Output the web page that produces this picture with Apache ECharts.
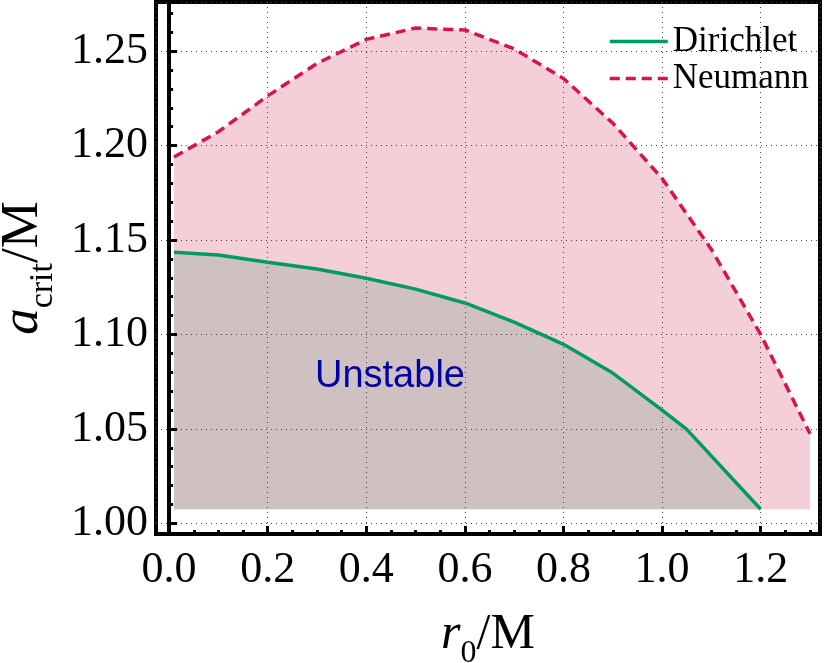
<!DOCTYPE html>
<html>
<head>
<meta charset="utf-8">
<title>critical spin vs r0</title>
<script src="https://cdn.jsdelivr.net/npm/echarts@6/dist/echarts.min.js"></script>
<style>
  html, body { margin: 0; padding: 0; background: #fff; }
  #myChart { width: 825px; height: 663px; }
</style>
</head>
<body>
<div id="myChart"></div>
<script>
// values
const rDirichlet = [0.01, 0.1, 0.2, 0.3, 0.4, 0.5, 0.6, 0.7, 0.8, 0.9, 1.0, 1.05, 1.2]
const aDirichlet = [1.1435, 1.1421, 1.1383, 1.1347, 1.1298, 1.1240, 1.1167, 1.1066, 1.0948, 1.0796, 1.0600, 1.0498, 1.0075]
const rNeumann = [0.01, 0.1, 0.2, 0.3, 0.4, 0.5, 0.6, 0.7, 0.8, 0.9, 1.0, 1.1, 1.2, 1.3]
const aNeumann = [1.1940, 1.2073, 1.2263, 1.2435, 1.2562, 1.2622, 1.2612, 1.2512, 1.2355, 1.2119, 1.1826, 1.1450, 1.1000, 1.0475]
const fillBase = 1.0075
const noteR = [0.448]
const noteA = [1.078]
const noteText = 'Unstable'

const xRange = [-0.0266, 1.3203]
const yRange = [0.9944, 1.2760]

const serif = '"Liberation Serif", "Times New Roman", serif'
const pink = '#f5cfd8'
const grey = '#cfc1c1'
const green = '#009b5f'
const crimson = '#d7144b'

function pairs (xs, ys) {
  return xs.map((x, i) => [x, ys[i]])
}

let myChart = echarts.init(document.getElementById('myChart'))
myChart.setOption({
  animation: false,
  textStyle: { fontFamily: serif },
  grid: {
    left: 156,
    right: 5,
    top: 2,
    bottom: 129,
    containLabel: false,
    outerBoundsMode: 'none',
    show: true,
    borderColor: '#000',
    borderWidth: 4,
    backgroundColor: 'transparent'
  },
  legend: {
    data: ['Dirichlet', 'Neumann'],
    orient: 'vertical',
    left: 603,
    top: 19,
    itemWidth: 58,
    itemHeight: 14,
    itemGap: 2,
    itemStyle: { opacity: 0 },
    lineStyle: { width: 3.5 },
    textStyle: { fontFamily: 'Liberation Serif', fontSize: 35, color: '#000' }
  },
  xAxis: {
    type: 'value',
    min: xRange[0],
    max: xRange[1],
    splitNumber: 7,
    z: 3,
    axisLine: { lineStyle: { color: '#000', width: 4 } },
    axisTick: { inside: true, length: 8, lineStyle: { color: '#000', width: 3 } },
    minorTick: { show: true, splitNumber: 4, length: 4, lineStyle: { color: '#000', width: 3 } },
    splitLine: { show: true, lineStyle: { color: '#444', width: 1, type: [1, 4] } },
    axisLabel: {
      showMinLabel: false,
      showMaxLabel: false,
      margin: 14,
      fontFamily: serif,
      fontSize: 44,
      color: '#000',
      formatter: v => v.toFixed(1)
    },
    name: '{r|r}{s|0}{m|/M}',
    nameLocation: 'middle',
    nameGap: 86,
    nameTextStyle: {
      rich: {
        r: { fontFamily: serif, fontStyle: 'italic', fontSize: 50, color: '#000', verticalAlign: 'bottom', lineHeight: 50, padding: [0, 0, 10, 0] },
        s: { fontFamily: serif, fontSize: 32, color: '#000', verticalAlign: 'bottom', lineHeight: 32 },
        m: { fontFamily: serif, fontSize: 50, color: '#000', verticalAlign: 'bottom', lineHeight: 50, padding: [0, 0, 10, 0] }
      }
    }
  },
  yAxis: {
    type: 'value',
    min: yRange[0],
    max: yRange[1],
    splitNumber: 5,
    z: 3,
    axisLine: { show: true, lineStyle: { color: '#000', width: 4 } },
    axisTick: { show: true, inside: true, length: 8, lineStyle: { color: '#000', width: 3 } },
    minorTick: { show: true, splitNumber: 5, length: 4, lineStyle: { color: '#000', width: 3 } },
    splitLine: { show: true, lineStyle: { color: '#444', width: 1, type: [1, 4] } },
    axisLabel: {
      showMinLabel: false,
      showMaxLabel: false,
      margin: 8,
      fontFamily: serif,
      fontSize: 44,
      color: '#000',
      formatter: v => v.toFixed(2)
    },
    name: '{a|a}{s|crit}{m|/M}',
    nameLocation: 'middle',
    nameGap: 96,
    nameTextStyle: {
      rich: {
        a: { fontFamily: serif, fontStyle: 'italic', fontSize: 53, color: '#000', verticalAlign: 'bottom', lineHeight: 53, padding: [0, 0, 10, 0] },
        s: { fontFamily: serif, fontSize: 34, color: '#000', verticalAlign: 'bottom', lineHeight: 34 },
        m: { fontFamily: serif, fontSize: 53, color: '#000', verticalAlign: 'bottom', lineHeight: 53, padding: [0, 0, 10, 0] }
      }
    }
  },
  series: [{
    name: 'NeumannFill',
    type: 'line',
    data: pairs(rNeumann, aNeumann),
    symbol: 'none',
    z: 1,
    silent: true,
    lineStyle: { width: 0 },
    areaStyle: { color: pink, opacity: 1, origin: fillBase }
  }, {
    name: 'DirichletFill',
    type: 'line',
    data: pairs(rDirichlet, aDirichlet),
    symbol: 'none',
    z: 2,
    silent: true,
    lineStyle: { width: 0 },
    areaStyle: { color: grey, opacity: 1, origin: fillBase }
  }, {
    name: 'Dirichlet',
    type: 'line',
    data: pairs(rDirichlet, aDirichlet),
    symbol: 'none',
    z: 5,
    color: green,
    lineStyle: { color: green, width: 3.5 }
  }, {
    name: 'Neumann',
    type: 'line',
    data: pairs(rNeumann, aNeumann),
    symbol: 'none',
    z: 5,
    color: crimson,
    lineStyle: { color: crimson, width: 3.5, type: [10, 6] }
  }, {
    name: 'note',
    type: 'scatter',
    data: pairs(noteR, noteA),
    symbolSize: 0,
    z: 6,
    silent: true,
    itemStyle: { opacity: 1 },
    label: {
      show: true,
      position: 'inside',
      formatter: noteText,
      fontFamily: '"Liberation Sans", Arial, sans-serif',
      fontSize: 38,
      color: '#0000aa',
      opacity: 1,
      textBorderWidth: 0
    }
  }]
})
</script>
</body>
</html>
